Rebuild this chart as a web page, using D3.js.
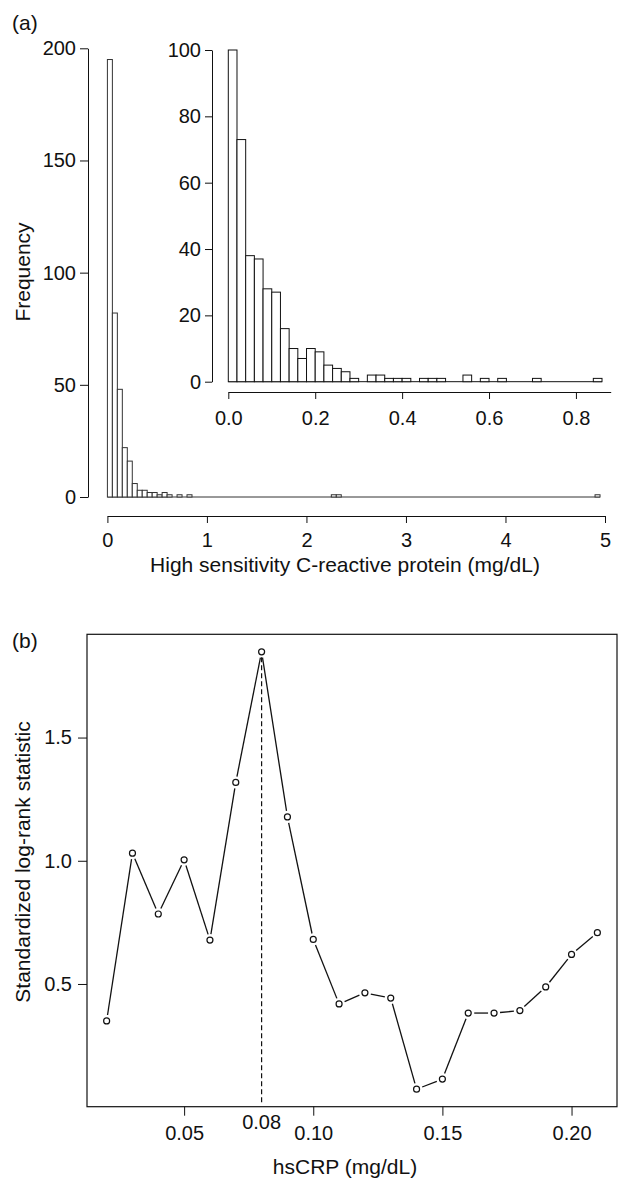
<!DOCTYPE html>
<html>
<head>
<meta charset="utf-8">
<script src="https://cdn.jsdelivr.net/npm/d3@7"></script>
<style>
  body { margin: 0; background: #fff; }
  svg { display: block; }
  text { font-family: "Liberation Sans", Arial, Helvetica, sans-serif; fill: #111; }
</style>
</head>
<body>
<div id="chart"></div>
<script>
// panel (a): histogram of hsCRP, 0.05 mg/dL bins from 0 to 4.95
const mainBinWidth = 0.05;
const mainCounts = [
  195, 82, 48, 22, 16, 6, 3, 3, 2, 2,
  1, 2, 1, 0, 1, 0, 1, 0, 0, 0,
  0, 0, 0, 0, 0, 0, 0, 0, 0, 0,
  0, 0, 0, 0, 0, 0, 0, 0, 0, 0,
  0, 0, 0, 0, 0, 1, 1, 0, 0, 0,
  0, 0, 0, 0, 0, 0, 0, 0, 0, 0,
  0, 0, 0, 0, 0, 0, 0, 0, 0, 0,
  0, 0, 0, 0, 0, 0, 0, 0, 0, 0,
  0, 0, 0, 0, 0, 0, 0, 0, 0, 0,
  0, 0, 0, 0, 0, 0, 0, 0, 1
];
const mainXTicks = [0, 1, 2, 3, 4, 5];
const mainYTicks = [0, 50, 100, 150, 200];

// inset: 0.02 mg/dL bins from 0 to 0.86
const insetBinWidth = 0.02;
const insetCounts = [
  100, 73, 38, 37, 28, 27, 16, 10, 7, 10,
  9, 5, 4, 3, 1, 0, 2, 2, 1, 1,
  1, 0, 1, 1, 1, 0, 0, 2, 0, 1,
  0, 1, 0, 0, 0, 1, 0, 0, 0, 0,
  0, 0, 1
];
const insetXTicks = [0, 0.2, 0.4, 0.6, 0.8];
const insetYTicks = [0, 20, 40, 60, 80, 100];

// panel (b): standardized log-rank statistic by cutoff
const cutoffs = [0.02, 0.03, 0.04, 0.05, 0.06, 0.07, 0.08, 0.09, 0.10, 0.11,
                 0.12, 0.13, 0.14, 0.15, 0.16, 0.17, 0.18, 0.19, 0.20, 0.21];
const logRank = [0.350, 1.031, 0.784, 1.004, 0.678, 1.318, 1.848, 1.178, 0.681, 0.419,
                 0.464, 0.443, 0.073, 0.114, 0.382, 0.382, 0.392, 0.488, 0.620, 0.708];
const bestCutoff = 0.08;
const lineXTicks = [0.05, 0.10, 0.15, 0.20];
const lineYTicks = [0.5, 1.0, 1.5];

const width = 619, height = 1183;
const ink = '#111';

const svg = d3.select('#chart').append('svg')
  .attr('width', width)
  .attr('height', height);

function styleAxis(g, fontSize) {
  g.attr('font-size', fontSize).attr('font-family', null);
  g.selectAll('path').attr('stroke', ink).attr('stroke-width', 1);
  g.selectAll('line').attr('stroke', ink).attr('stroke-width', 1);
  g.selectAll('text').attr('fill', ink);
}

function histogram(counts, binWidth, x, y, stroke) {
  const g = svg.append('g');
  const n = counts.length;
  // zero-count bins collapse into the baseline
  g.append('line')
    .attr('x1', x(0)).attr('x2', x(n * binWidth))
    .attr('y1', y(0)).attr('y2', y(0))
    .attr('stroke', stroke).attr('stroke-width', 1);
  g.selectAll('rect')
    .data(counts.map((c, i) => ({ x0: i * binWidth, x1: (i + 1) * binWidth, c }))
      .filter(d => d.c > 0))
    .enter().append('rect')
      .attr('x', d => x(d.x0))
      .attr('width', d => x(d.x1) - x(d.x0))
      .attr('y', d => y(d.c))
      .attr('height', d => y(0) - y(d.c))
      .attr('fill', '#fff')
      .attr('stroke', stroke)
      .attr('stroke-width', 1);
}

// ---- panel (a) main histogram ----
const xMain = d3.scaleLinear().domain([0, 5]).range([107.4, 605]);
const yMain = d3.scaleLinear().domain([0, 200]).range([497, 48.3]);

histogram(mainCounts, mainBinWidth, xMain, yMain, '#333');

svg.append('g')
  .attr('transform', 'translate(0,516)')
  .call(d3.axisBottom(xMain).tickValues(mainXTicks).tickSize(7).tickSizeOuter(0).tickFormat(d3.format('d')))
  .call(g => styleAxis(g, 20))
  .call(g => g.selectAll('.tick text').attr('y', 24).attr('dy', '0.35em'));

svg.append('g')
  .attr('transform', 'translate(88,0)')
  .call(d3.axisLeft(yMain).tickValues(mainYTicks).tickSize(8).tickPadding(4).tickSizeOuter(0))
  .call(g => styleAxis(g, 20));

svg.append('text')
  .attr('x', 345).attr('y', 565).attr('dy', '0.35em')
  .attr('text-anchor', 'middle').attr('font-size', 21)
  .text('High sensitivity C-reactive protein (mg/dL)');

svg.append('text')
  .attr('transform', 'translate(23,272) rotate(-90)')
  .attr('dy', '0.35em')
  .attr('text-anchor', 'middle').attr('font-size', 21)
  .text('Frequency');

svg.append('text')
  .attr('x', 12).attr('y', 23).attr('dy', '0.35em')
  .attr('font-size', 21)
  .text('(a)');

// ---- inset histogram ----
const xIn = d3.scaleLinear().domain([0, 0.88]).range([228.3, 610.7]);
const yIn = d3.scaleLinear().domain([0, 100]).range([381.7, 50]);

histogram(insetCounts, insetBinWidth, xIn, yIn, ink);

svg.append('g')
  .attr('transform', 'translate(0,392)')
  .call(d3.axisBottom(xIn).tickValues(insetXTicks).tickSize(7).tickSizeOuter(0).tickFormat(d3.format('.1f')))
  .call(g => styleAxis(g, 20))
  .call(g => g.selectAll('.tick text').attr('y', 26).attr('dy', '0.35em'));

svg.append('g')
  .attr('transform', 'translate(212,0)')
  .call(d3.axisLeft(yIn).tickValues(insetYTicks).tickSize(7).tickPadding(4).tickSizeOuter(0))
  .call(g => styleAxis(g, 20));

// ---- panel (b) log-rank statistic ----
const xB = d3.scaleLinear().domain([0.0124, 0.2176]).range([87, 617]);
const yB = d3.scaleLinear().domain([0.002, 1.919]).range([1106.7, 634.3]);

svg.append('rect')
  .attr('x', xB.range()[0]).attr('y', yB.range()[1])
  .attr('width', xB.range()[1] - xB.range()[0])
  .attr('height', yB.range()[0] - yB.range()[1])
  .attr('fill', 'none').attr('stroke', ink).attr('stroke-width', 1.2);

svg.append('g')
  .attr('transform', `translate(0,${yB.range()[0]})`)
  .call(d3.axisBottom(xB).tickValues(lineXTicks).tickSize(9).tickFormat(d3.format('.2f')))
  .call(g => g.select('.domain').remove())
  .call(g => styleAxis(g, 20))
  .call(g => g.selectAll('.tick text').attr('y', 26).attr('dy', '0.35em'));

svg.append('text')
  .attr('x', xB(bestCutoff)).attr('y', yB.range()[0] + 15).attr('dy', '0.35em')
  .attr('text-anchor', 'middle').attr('font-size', 20)
  .text(d3.format('.2f')(bestCutoff));

svg.append('g')
  .attr('transform', `translate(${xB.range()[0]},0)`)
  .call(d3.axisLeft(yB).tickValues(lineYTicks).tickSize(9).tickPadding(6).tickFormat(d3.format('.1f')))
  .call(g => g.select('.domain').remove())
  .call(g => styleAxis(g, 20));

svg.append('text')
  .attr('x', 345).attr('y', 1167).attr('dy', '0.35em')
  .attr('text-anchor', 'middle').attr('font-size', 21)
  .text('hsCRP (mg/dL)');

svg.append('text')
  .attr('transform', 'translate(23,862) rotate(-90)')
  .attr('dy', '0.35em')
  .attr('text-anchor', 'middle').attr('font-size', 21)
  .text('Standardized log-rank statistic');

svg.append('text')
  .attr('x', 12).attr('y', 641).attr('dy', '0.35em')
  .attr('font-size', 21)
  .text('(b)');

// dashed line at the chosen cutoff
const peak = logRank[cutoffs.indexOf(bestCutoff)];
svg.append('line')
  .attr('x1', xB(bestCutoff)).attr('x2', xB(bestCutoff))
  .attr('y1', yB(0.02)).attr('y2', yB(peak))
  .attr('stroke', ink).attr('stroke-width', 1.2)
  .attr('stroke-dasharray', '5,3');

// connecting segments with gaps around each point (type "b")
const pts = cutoffs.map((c, i) => [xB(c), yB(logRank[i])]);
const gap = 6;
const segs = d3.pairs(pts).map(([a, b]) => {
  const dx = b[0] - a[0], dy = b[1] - a[1];
  const len = Math.hypot(dx, dy);
  const ux = dx / len, uy = dy / len;
  return [a[0] + ux * gap, a[1] + uy * gap, b[0] - ux * gap, b[1] - uy * gap, len];
}).filter(s => s[4] > 2 * gap);

svg.append('g').selectAll('line')
  .data(segs)
  .enter().append('line')
    .attr('x1', d => d[0]).attr('y1', d => d[1])
    .attr('x2', d => d[2]).attr('y2', d => d[3])
    .attr('stroke', ink).attr('stroke-width', 1.3);

svg.append('g').selectAll('circle')
  .data(pts)
  .enter().append('circle')
    .attr('cx', d => d[0]).attr('cy', d => d[1])
    .attr('r', 3)
    .attr('fill', '#fff')
    .attr('stroke', ink).attr('stroke-width', 1.2);
</script>
</body>
</html>
